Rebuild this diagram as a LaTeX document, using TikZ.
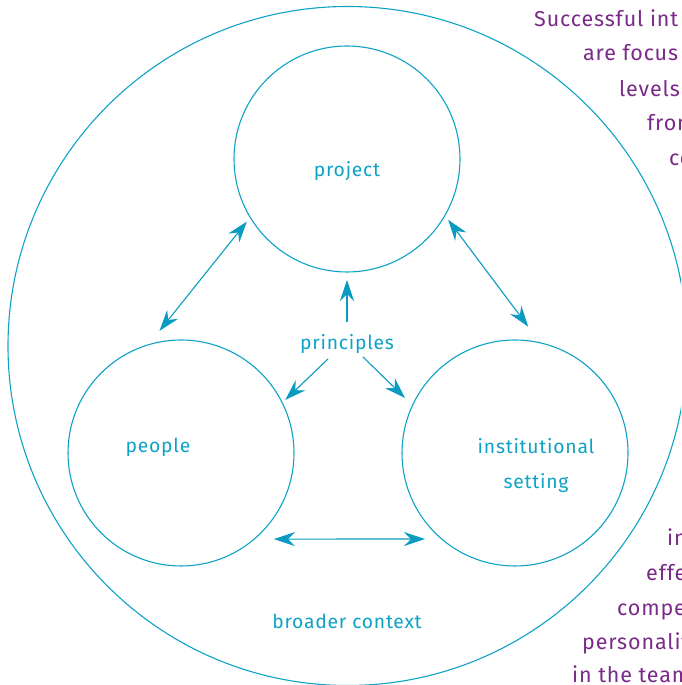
\documentclass[tikz,border=0pt]{standalone}
\usepackage{fontspec}
\setmainfont{Fira Sans}[LetterSpace=4]
\usetikzlibrary{arrows.meta, positioning, calc}
\definecolor{ringcyan}{RGB}{14,163,198}
\definecolor{arrowcyan}{RGB}{10,155,192}
\definecolor{notepurple}{RGB}{122,42,136}

\begin{document}
\begin{tikzpicture}[x=1pt, y=1pt,
    ring/.style={draw=ringcyan, line width=1.1pt, circle, minimum size=226pt, inner sep=0pt, outer sep=0pt},
    lbl/.style={text=ringcyan, font=\fontsize{19.3}{35}\selectfont, align=center},
    note/.style={text=notepurple, font=\fontsize{21.5}{24}\selectfont, anchor=base west, inner sep=0pt},
    link/.style={draw=arrowcyan, line width=1.1pt, -{Stealth[length=21pt, width=14pt, inset=7pt]}},
    biarrow/.style={draw=arrowcyan, line width=1.1pt, {Stealth[length=21pt, width=14pt, inset=7pt]}-{Stealth[length=21pt, width=14pt, inset=7pt]}}]
    \useasboundingbox (0,0) rectangle (681,685);
    \clip (0,0) rectangle (681,685);
    \fill[white] (0,0) rectangle (681,685);

    % outer ring and the three circles
    \node[ring, minimum size=679pt] (context) at (347.5,339) {};
    \node[ring] (project) at (347,526) {};
    \node[ring] (people) at (181,232) {};
    \node[ring] (setting) at (515,232) {};

    % labels
    \node[lbl] (projectlbl) at (347,514) {project};
    \node[lbl] (peoplelbl) at (158,238) {people};
    \node[lbl] (settinglbl) at (536,219) {institutional\\setting};
    \node[lbl] (principles) at (347,341) {principles};
    \node[lbl] (contextlbl) at (347,64) {broader context};

    % principles feed the circles
    \draw[link] ([yshift=22pt]principles.center) -- ([yshift=-8pt]project.south);
    \draw[link] ([shift={(-19,-15)}]principles.center) -- ([shift={(27:117)}]people.center);
    \draw[link] ([shift={(16,-13)}]principles.center) -- ([shift={(153.4:123)}]setting.center);

    % links between the circles
    \draw[biarrow] ([shift={(212:118)}]project.center) -- ([shift={(100:124)}]people.center);
    \draw[biarrow] ([shift={(-31:118)}]project.center) -- ([shift={(84:127)}]setting.center);
    \draw[biarrow] ([shift={(-42.8:126.7)}]people.center) -- ([shift={(223.7:124.5)}]setting.center);

    % side text, cut off at the right edge
    \foreach \txt/\xx/\yy in {{Successful int}/534/658, {are focus}/583/624, levels/619/588,
        from/647/554, co/669/519, in/667/139, effe/646/104, compe/617/69,
        personalit/582/35, {in the team}/572/2}
        \node[note] at (\xx,\yy) {\txt};
\end{tikzpicture}
\end{document}
